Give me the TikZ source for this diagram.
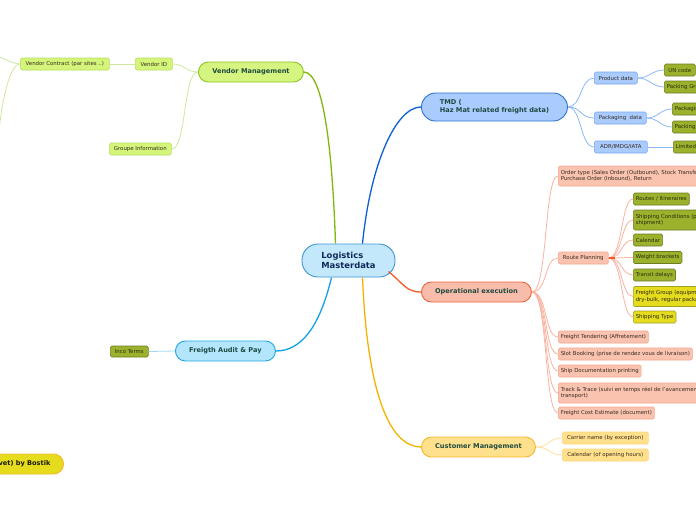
\documentclass[tikz,border=0pt]{standalone}
\usepackage{fontspec}
\setmainfont{DejaVu Sans}
\usetikzlibrary{calc}
\definecolor{cfill}{HTML}{C4E8FB}\definecolor{cbord}{HTML}{3C96D6}\definecolor{ctext}{HTML}{10295A}
\definecolor{vfill}{HTML}{D6F580}\definecolor{vbord}{HTML}{8DC21F}\definecolor{vline}{HTML}{7DB80A}
\definecolor{vlfill}{HTML}{D4F57A}\definecolor{vlbord}{HTML}{B5E061}\definecolor{vlline}{HTML}{CDE8A0}
\definecolor{tfill}{HTML}{A9CBFE}\definecolor{tbord}{HTML}{2F74D0}\definecolor{tline}{HTML}{0D5FD3}
\definecolor{tlbord}{HTML}{78A8F0}\definecolor{tlline}{HTML}{8AB8F8}
\definecolor{ofill}{HTML}{9CB22C}\definecolor{obord}{HTML}{6E7C24}\definecolor{otext}{HTML}{2B2B10}
\definecolor{yfill}{HTML}{E6DC1E}\definecolor{ybord}{HTML}{A0A020}
\definecolor{pfill}{HTML}{F8BDAA}\definecolor{pbord}{HTML}{F0603A}\definecolor{pline}{HTML}{F25A2A}
\definecolor{plfill}{HTML}{F9C3B0}\definecolor{plbord}{HTML}{F7A58C}\definecolor{plline}{HTML}{F9B3A0}
\definecolor{kfill}{HTML}{FFE08C}\definecolor{kbord}{HTML}{F5B82A}\definecolor{kline}{HTML}{F5B300}
\definecolor{klbord}{HTML}{FFD47A}\definecolor{klline}{HTML}{FFE09A}
\definecolor{ffill}{HTML}{B3E6FC}\definecolor{fbord}{HTML}{1FA5E6}\definecolor{fline}{HTML}{14A0E6}
\definecolor{flline}{HTML}{9FD8F2}
\definecolor{mtext}{HTML}{1E4A40}\definecolor{ltext}{HTML}{3A2A20}
\begin{document}
\begin{tikzpicture}[x=1pt,y=-1pt,
  mainbox/.style={draw,line width=0.9pt,rounded corners=10pt,minimum height=20pt,inner xsep=11pt,
    font=\fontsize{6.6}{8}\selectfont\bfseries,text=mtext,anchor=west},
  leafbox/.style={draw,line width=0.6pt,rounded corners=1.5pt,minimum height=12pt,inner xsep=2.5pt,inner ysep=1.5pt,
    font=\fontsize{5.4}{6.4}\selectfont,text=ltext,anchor=west,align=left},
  olive/.style={leafbox,fill=ofill,draw=obord,text=otext},
  yel/.style={leafbox,fill=yfill,draw=ybord,text=otext},
  vleaf/.style={leafbox,fill=vlfill,draw=vlbord},
  tleaf/.style={leafbox,fill=tfill,draw=tlbord},
  pleaf/.style={leafbox,fill=plfill,draw=plbord},
  kleaf/.style={leafbox,fill=kfill,draw=klbord},
  trunk/.style={line width=1.3pt},
  twig/.style={line width=0.8pt}
]
\useasboundingbox (0,0) rectangle (696,520);
\clip (0,0) rectangle (696,520);

% central
\node[draw=cbord,fill=cfill,line width=0.9pt,rounded corners=16pt,minimum width=93pt,minimum height=33pt,
  font=\fontsize{8.4}{10}\selectfont\bfseries,text=ctext,align=left] (root) at (348.5,260.5) {Logistics\\Masterdata};

% main branches
\node[mainbox,fill=vfill,draw=vbord,minimum width=105pt] (vm) at (198,72) {Vendor Management};
\node[mainbox,fill=tfill,draw=tbord,minimum width=146pt,minimum height=28pt,rounded corners=14pt,align=left] (tmd) at (421,107) {TMD (\\Haz Mat related freight data)};
\node[mainbox,fill=pfill,draw=pbord,minimum width=110pt] (op) at (421,292) {Operational execution};
\node[mainbox,fill=kfill,draw=kbord,minimum width=114pt] (cm) at (421,447) {Customer Management};
\node[mainbox,fill=ffill,draw=fbord,minimum width=100pt] (fa) at (175,351) {Freigth Audit \& Pay};
\node[draw=kbord,fill=yfill,line width=0.9pt,rounded corners=10pt,minimum height=20pt,minimum width=200pt,anchor=east] (bos) at (64,464) {};
\node[font=\fontsize{6.6}{8}\selectfont\bfseries,text=otext!60!black,anchor=east] (bostxt) at (54,464) {(Privet) by Bostik};

% trunks
\draw[trunk,vline] (vm.east) .. controls +(20,0) and +(-3,-90) .. ($(root.north)+(-13,0)$);
\draw[trunk,tline] ($(root.north)+(14,0)$) .. controls +(8,-80) and +(-25,0) .. (tmd.west);
\draw[trunk,pline] ($(root.east)+(-7,11)$) .. controls +(15,12) and +(-15,0) .. (op.west);
\draw[trunk,kline] ($(root.south)+(14,0)$) .. controls +(5,120) and +(-30,0) .. (cm.west);
\draw[trunk,fline] ($(root.south)+(-17,0)$) .. controls +(-12,50) and +(25,0) .. (fa.east);

% vendor leaves
\node[vleaf,minimum width=37pt] (vid) at (135,64) {Vendor ID};
\node[vleaf,minimum width=89pt] (vc) at (20,64) {Vendor Contract (par sites ..)};
\node[vleaf,minimum width=62pt] (gi) at (109,149) {Groupe Information};
\coordinate (vcA) at (-25,48);
\coordinate (vcB) at (-5,200);
\draw[twig,vlline] (vm.west) .. controls +(-12,0) and +(12,0) .. (vid.east);
\draw[twig,vlline] (vm.west) .. controls +(-15,0) and +(15,0) .. (gi.east);
\draw[twig,vlline] (vid.west) -- (vc.east);
\draw[twig,vlline] (vc.west) .. controls +(-10,0) and +(10,0) .. (vcA);
\draw[twig,vlline] (vc.west) .. controls +(-15,0) and +(0,-60) .. (vcB);

% TMD leaves
\node[tleaf,minimum width=43pt] (pd) at (594,78) {Product data};
\node[tleaf,minimum width=52pt] (pk) at (594,118) {Packaging\ \ data};
\node[tleaf,minimum width=53pt] (adr) at (594,147) {ADR/IMDG/IATA};
\node[olive,minimum width=31pt] (un) at (664,70) {UN code};
\node[olive] (pg) at (664,87) {Packing Group};
\node[olive] (pt) at (672,109) {Packaging type};
\node[olive] (pi) at (672,127) {Packing instruction};
\node[olive] (lq) at (673,147) {Limited quantities};
\foreach \c in {pd,pk,adr}{\draw[twig,tlline] (tmd.east) .. controls +(14,0) and +(-14,0) .. (\c.west);}
\foreach \c in {un,pg}{\draw[twig,tlline] (pd.east) .. controls +(12,0) and +(-12,0) .. (\c.west);}
\foreach \c in {pt,pi}{\draw[twig,tlline] (pk.east) .. controls +(12,0) and +(-12,0) .. (\c.west);}
\draw[twig,tlline] (adr.east) -- (lq.west);

% operational leaves
\node[pleaf,minimum height=20pt] (ot) at (558,176) {Order type (Sales Order (Outbound), Stock Transfer Order,\\Purchase Order (Inbound), Return};
\node[pleaf,minimum width=50pt] (rp) at (558,258) {Route Planning};
\node[pleaf] (ft) at (558,337) {Freight Tendering (Affretement)};
\node[pleaf] (sb) at (558,354) {Slot Booking (prise de rendez vous de livraison)};
\node[pleaf] (sd) at (558,371) {Ship Documentation printing};
\node[pleaf,minimum height=20pt] (tt) at (558,393) {Track \& Trace (suivi en temps réel de l'avancement du\\transport)};
\node[pleaf] (fc) at (558,413) {Freight Cost Estimate (document)};
\foreach \c in {ot,rp,ft,sb,sd,tt,fc}{\draw[twig,plline] (op.east) .. controls +(16,0) and +(-14,0) .. (\c.west);}

% route planning leaves
\node[olive] (ri) at (633,199) {Routes / Itineraires};
\node[olive,minimum height=20pt] (sc) at (633,220) {Shipping Conditions (per\\shipment)};
\node[olive] (ca) at (633,240) {Calendar};
\node[olive] (wb) at (633,257.5) {Weight brackets};
\node[olive] (td) at (633,275) {Transit delays};
\node[yel,minimum height=20pt] (fg) at (633,296.5) {Freight Group (equipment,\\dry-bulk, regular packages)};
\node[yel] (st) at (633,317) {Shipping Type};
\foreach \c in {ri,sc,ca,wb,td,fg,st}{\draw[twig,plline] (rp.east) .. controls +(14,0) and +(-12,0) .. (\c.west);}
\draw[line width=1.6pt,pline] (rp.east) -- +(6,0);

% customer leaves
\node[kleaf,minimum width=86pt] (cn) at (562,438) {Carrier name (by exception)};
\node[kleaf,minimum width=86pt] (co) at (562,455) {Calendar (of opening hours)};
\foreach \c in {cn,co}{\draw[twig,klline] (cm.east) .. controls +(14,0) and +(-14,0) .. (\c.west);}

% freight audit leaf
\node[olive,minimum width=38pt,minimum height=11pt] (it) at (110,351.5) {Inco Terms};
\draw[twig,flline] (fa.west) -- (it.east);
\end{tikzpicture}
\end{document}
